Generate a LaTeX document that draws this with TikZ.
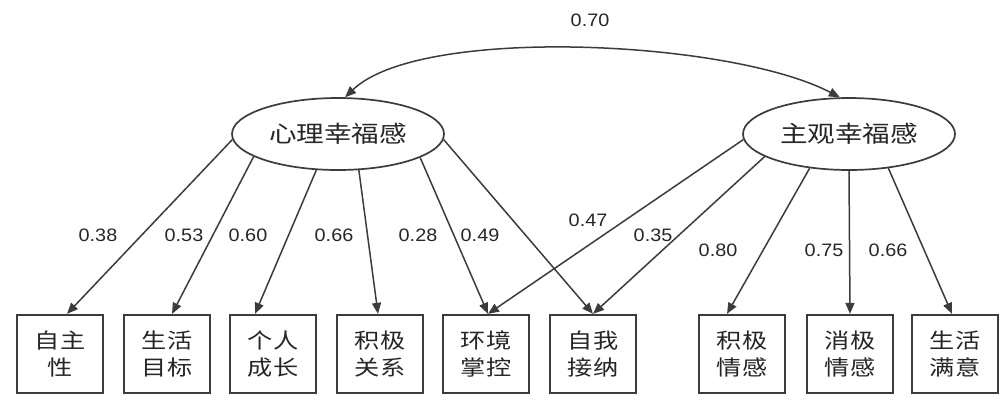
\documentclass[tikz,border=0pt]{standalone}
\usepackage{fontspec}
\setmainfont{Liberation Sans}
\newfontfamily\cjk[FakeStretch=1.2]{Noto Sans CJK SC}
\newfontfamily\numf[FakeStretch=1.1]{Liberation Sans}
\usetikzlibrary{arrows.meta,shapes.geometric}
\definecolor{linec}{HTML}{3C3C3C}
\definecolor{textc}{HTML}{262626}
\begin{document}
\begin{tikzpicture}[x=1pt,y=-1pt,
  latent/.style={ellipse,draw=linec,line width=1.7pt,minimum width=212pt,minimum height=72pt,inner sep=0pt,font=\cjk\fontsize{23}{27}\selectfont,text=textc},
  obs/.style={rectangle,draw=linec,line width=2.3pt,minimum width=86pt,minimum height=78pt,inner sep=0pt,font=\cjk\fontsize{21}{27}\selectfont,text=textc,align=center},
  load/.style={draw=linec,line width=1.5pt,-{Triangle[length=11pt,width=9pt]}},
  arcline/.style={draw=linec,line width=1.5pt,{Triangle[length=11pt,width=9pt]}-{Triangle[length=11pt,width=9pt]}},
  coef/.style={font=\numf\fontsize{18}{20}\selectfont,text=textc,inner sep=0pt},
]
\fill[white] (0,0) rectangle (1000,400);
\useasboundingbox (0,0) rectangle (1000,400);

\node[latent] (e1) at (338,134) {心理幸福感};
\node[latent] (e2) at (849,134) {主观幸福感};

\node[obs] (b1) at (60,354) {自主\\性};
\node[obs] (b2) at (167,354) {生活\\目标};
\node[obs] (b3) at (273,354) {个人\\成长};
\node[obs] (b4) at (380,354) {积极\\关系};
\node[obs] (b5) at (486,354) {环境\\掌控};
\node[obs] (b6) at (593,354) {自我\\接纳};
\node[obs] (b7) at (742,354) {积极\\情感};
\node[obs] (b8) at (850,354) {消极\\情感};
\node[obs] (b9) at (955,354) {生活\\满意};

\draw[load] (e1.183) -- ([xshift=7pt]b1.north);
\draw[load] (e1.195) -- ([xshift=5pt]b2.north);
\draw[load] (e1.239) -- ([xshift=-18pt]b3.north);
\draw[load] (e1.300) -- ([xshift=-2pt]b4.north);
\draw[load] (e1.344) -- ([xshift=2pt]b5.north);
\draw[load] (e1.357) -- (b6.north);
\draw[load] (e2.183) -- ([xshift=2pt]b5.north);
\draw[load] (e2.195) -- (b6.north);
\draw[load] (e2.221) -- ([xshift=-15pt]b7.north);
\draw[load] (e2.270) -- (b8.north);
\draw[load] (e2.319) -- ([xshift=-3pt]b9.north);

\draw[arcline] (e2.104) .. controls (730,40) and (420,25) .. (e1.79);

\node[coef] (c0) at (590,20) {0.70};
\node[coef] (c1) at (98,235) {0.38};
\node[coef] (c2) at (184,235) {0.53};
\node[coef] (c3) at (248,235) {0.60};
\node[coef] (c4) at (334,235) {0.66};
\node[coef] (c5) at (418,235) {0.28};
\node[coef] (c6) at (480,235) {0.49};
\node[coef] (c7) at (588,220) {0.47};
\node[coef] (c8) at (653,235) {0.35};
\node[coef] (c9) at (718,250) {0.80};
\node[coef] (c10) at (824,250) {0.75};
\node[coef] (c11) at (888,250) {0.66};
\end{tikzpicture}
\end{document}
